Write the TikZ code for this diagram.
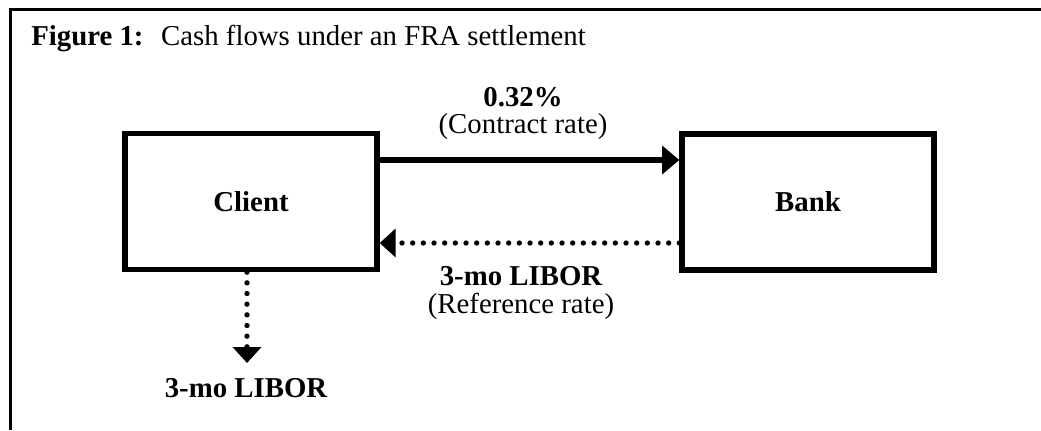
\documentclass[tikz,border=0pt]{standalone}
\usepackage{fontspec}
\setmainfont{Liberation Serif}
\usetikzlibrary{arrows.meta}
\newcommand{\bodyfont}{\fontsize{21.6}{26}\selectfont}
\tikzset{
  px/.style={x=0.75pt,y=-0.75pt},
  party/.style={draw,line width=4pt,minimum width=189pt,minimum height=102pt,inner sep=0pt,font=\bodyfont\bfseries},
  lbl/.style={inner sep=0pt,align=center,font=\bodyfont},
  boldlbl/.style={lbl,font=\bodyfont\bfseries},
  solidarrow/.style={line width=4.2pt,-{Triangle[length=13pt,width=21pt]}},
  dotarrow/.style={line width=4pt,line cap=round,dash pattern=on 0pt off 8pt,-{Triangle[length=12pt,width=21pt,line cap=butt]}},
}
\begin{document}
\begin{tikzpicture}[px]
\useasboundingbox (0,0) rectangle (1041,430);
\draw[line width=1.6pt] (10.5,430) -- (10.5,9.5) -- (1041,9.5);
\node[lbl,anchor=base west] (title) at (31,45) {\textbf{Figure 1:}\hspace{6pt} Cash flows under an FRA settlement};
\node[party] (client) at (251,201.5) {Client};
\node[party] (bank) at (808,202) {Bank};
\node[boldlbl] (rate) at (523,97) {0.32\%};
\node[lbl] (contract) at (523,127) {(Contract rate)};
\node[boldlbl] (libor) at (521,276) {3-mo LIBOR};
\node[lbl] (reference) at (521,306) {(Reference rate)};
\node[boldlbl] (libor2) at (246,388) {3-mo LIBOR};
\coordinate (down) at (247,363);
\draw[solidarrow] (client.east |- 0,160) -- (bank.west |- 0,160);
\draw[dotarrow] (bank.west |- 0,243) -- (client.east |- 0,243);
\draw[dotarrow] (client.south -| down) -- (down);
\end{tikzpicture}
\end{document}
